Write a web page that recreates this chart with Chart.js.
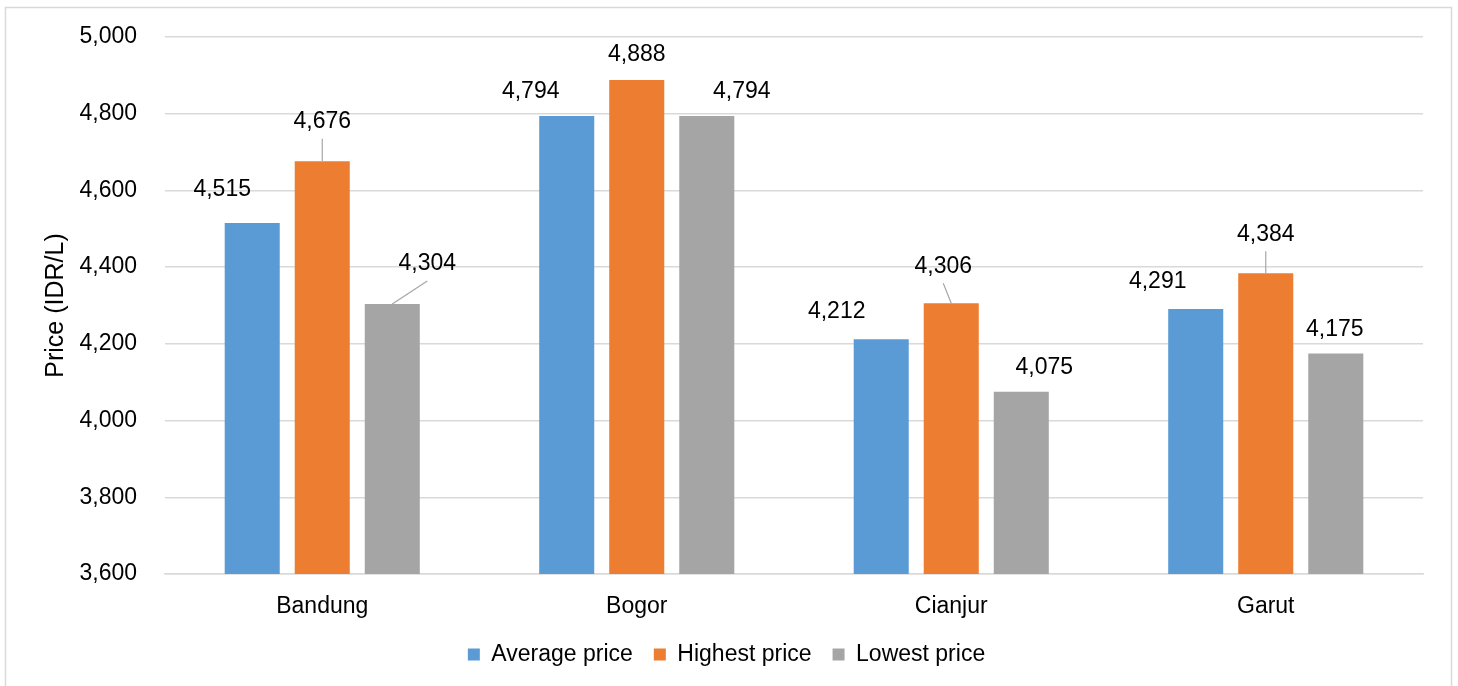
<!DOCTYPE html>
<html>
<head>
<meta charset="utf-8">
<script src="https://cdn.jsdelivr.net/npm/chart.js@4"></script>
<style>
  html, body { margin: 0; padding: 0; background: #fff; }
  #wrap { position: relative; width: 1458px; height: 686px; }
</style>
</head>
<body>
<div id="wrap"><canvas id="c"></canvas></div>
<script>
const categories = ["Bandung", "Bogor", "Cianjur", "Garut"];
const averagePrice = [4515, 4794, 4212, 4291];
const highestPrice = [4676, 4888, 4306, 4384];
const lowestPrice = [4304, 4794, 4075, 4175];
const seriesNames = ["Average price", "Highest price", "Lowest price"];
const yMin = 3600, yMax = 5000, yStep = 200;
const yTitle = "Price (IDR/L)";

// label placement (pixel offsets relative to the bar top centre) and leader flags
const labelDx = [[-30, -36, -44.5, -38], [0, 0, -8, 0], [35, 35, 23, -1]];
const labelDy = [[-33, -24, -28, -27], [-39.5, -25, -37, -39], [-40, -24, -24, -24]];
const leader = [[false, false, false, false], [true, false, true, true], [true, false, false, false]];

const colors = ["#5b9bd5", "#ed7d31", "#a5a5a5"];
const FONT = "'Liberation Sans', Arial, sans-serif";
const FS = 23;

const borderPlugin = {
  id: 'outerBorder',
  beforeDraw(chart) {
    const ctx = chart.ctx;
    ctx.save();
    ctx.fillStyle = '#fff';
    ctx.fillRect(0, 0, chart.width, chart.height);
    ctx.strokeStyle = '#d9d9d9';
    ctx.lineWidth = 1.5;
    ctx.strokeRect(5.5, 7.5, 1446, 700);
    ctx.restore();
  }
};

const labelPlugin = {
  id: 'barLabels',
  afterDatasetsDraw(chart) {
    const ctx = chart.ctx;
    ctx.save();
    ctx.font = FS + "px " + FONT;
    ctx.textAlign = 'center';
    ctx.textBaseline = 'middle';
    chart.data.datasets.forEach((ds, i) => {
      const meta = chart.getDatasetMeta(i);
      meta.data.forEach((bar, j) => {
        const lx = bar.x + labelDx[i][j];
        const ly = bar.y + labelDy[i][j];
        if (leader[i][j]) {
          ctx.strokeStyle = '#a6a6a6';
          ctx.lineWidth = 1.2;
          ctx.beginPath();
          ctx.moveTo(lx, ly + 17);
          ctx.lineTo(bar.x, bar.y);
          ctx.stroke();
        }
        ctx.fillStyle = '#000';
        ctx.fillText(ds.data[j].toLocaleString('en-US'), lx, ly);
      });
    });
    ctx.restore();
  }
};

const seriesData = [averagePrice, highestPrice, lowestPrice];

new Chart(document.getElementById('c'), {
  type: 'bar',
  data: {
    labels: categories,
    datasets: seriesNames.map((n, i) => ({
      label: n,
      data: seriesData[i],
      backgroundColor: colors[i],
      borderWidth: 0,
      barPercentage: 0.786,
      categoryPercentage: 0.668
    }))
  },
  options: {
    responsive: true,
    maintainAspectRatio: false,
    animation: false,
    layout: { padding: { left: 30, right: 35, top: 37, bottom: 10 } },
    plugins: {
      legend: {
        position: 'bottom',
        labels: {
          font: { size: FS, family: FONT },
          color: '#000',
          boxWidth: 12,
          boxHeight: 12,
          padding: 21
        }
      },
      tooltip: { enabled: false }
    },
    scales: {
      x: {
        grid: { display: false, drawTicks: false },
        border: { display: true, color: '#d9d9d9', width: 1.5 },
        ticks: { font: { size: FS, family: FONT }, color: '#000', padding: 19 },
        afterFit(s) { s.height = 48; }
      },
      y: {
        min: yMin, max: yMax,
        grid: { color: '#d9d9d9', lineWidth: 1.5, drawTicks: true, tickLength: 23, tickColor: 'rgba(0,0,0,0)' },
        border: { display: false },
        ticks: {
          stepSize: yStep,
          font: { size: FS, family: FONT },
          color: '#000',
          padding: 5,
          callback: v => v.toLocaleString('en-US')
        },
        title: {
          display: true,
          text: yTitle,
          font: { size: 25, family: FONT },
          color: '#000',
          padding: { top: 11, bottom: 0 }
        },
        afterFit(s) { s.width = 135; }
      }
    }
  },
  plugins: [borderPlugin, labelPlugin]
});
</script>
</body>
</html>
